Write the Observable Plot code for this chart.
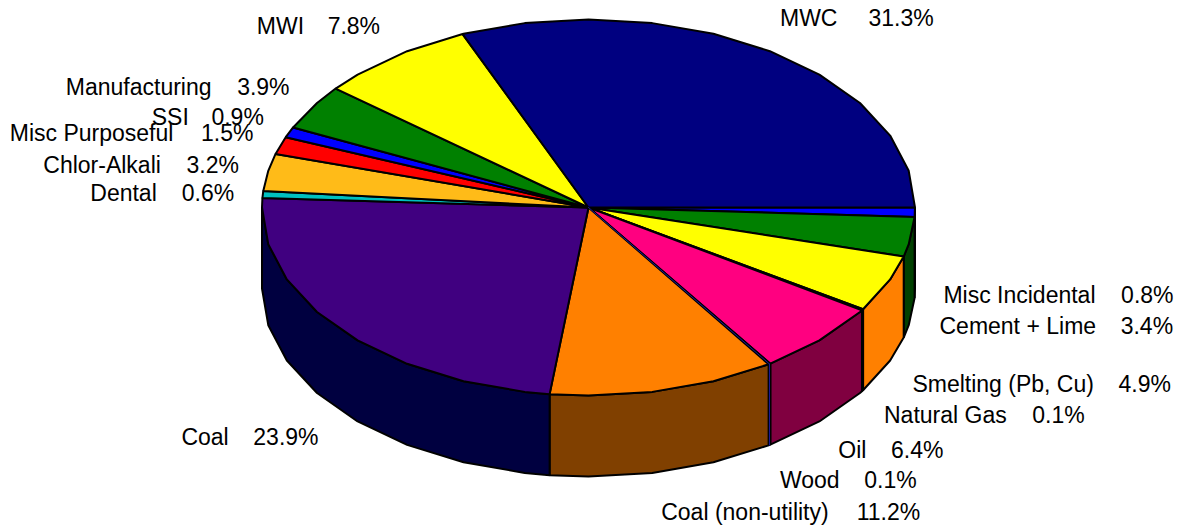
<!DOCTYPE html>
<html>
<head>
<meta charset="utf-8">
<script src="https://cdn.jsdelivr.net/npm/d3@7"></script>
<script src="https://cdn.jsdelivr.net/npm/@observablehq/plot@0.6"></script>
<style>
  html, body { margin: 0; padding: 0; background: #fff; }
  svg { display: block; }
</style>
</head>
<body>
<div id="chart"></div>
<script>
// Mercury emission shares by source category, clockwise from 3 o'clock.
const sources = ["Misc Incidental", "Cement + Lime", "Smelting (Pb, Cu)", "Natural Gas", "Oil", "Wood",
  "Coal (non-utility)", "Coal", "Dental", "Chlor-Alkali", "Misc Purposeful", "SSI", "Manufacturing", "MWI", "MWC"];
const shares = [0.8, 3.4, 4.9, 0.1, 6.4, 0.1, 11.2, 23.9, 0.6, 3.2, 1.5, 0.9, 3.9, 7.8, 31.3];
const topColors = ["#0000ff", "#008000", "#ffff00", "#000080", "#ff0080", "#000080", "#ff8000", "#400080",
  "#00c0c0", "#ffbb18", "#ff0000", "#0000ff", "#008000", "#ffff00", "#000080"];
const wallColors = ["#000080", "#004000", "#ff8000", "#000040", "#800040", "#000080", "#804000", "#000040",
  "#006060", "#805c0c", "#800000", "#000080", "#004000", "#808000", "#000040"];

// Label placement relative to the rim point at each slice's middle angle.
const labelDx = [28.5, 28.5, 25.5, 21.5, 17.5, 10.5, -2.5, -157.5, -172.5, -224.5, -270.5, -137.5, -246.5, -136.5, 10.5];
const labelDy = [91, 97, 108, 113, 118, 124, 130, 116, 6, 1, -4, -7, -12, -23, -25];
// Space between a source name and its percentage.
const valueGaps = [25.6, 24.6, 24.6, 25.6, 24.6, 24.6, 28, 24.6, 25, 25.6, 27.6, 22.6, 25.6, 23.6, 31];

const fontSize = 23;
const fontFamily = "'Liberation Sans', Arial, sans-serif";
const wallDepth = 0.431;       // side wall height, in units of the vertical radius
const rimStep = 11.25;         // the rim is flattened to chords at this angular step

const measure = document.createElement("canvas").getContext("2d");
measure.font = `${fontSize}px ${fontFamily}`;

const rim = (deg, drop = 0) => ({
  x: Math.cos(deg * Math.PI / 180),
  y: Math.sin(deg * Math.PI / 180) + drop
});

// Rim angles between two boundaries, including every flattening vertex.
function rimAngles(a0, a1) {
  const angles = [a0];
  for (let k = Math.floor(a0 / rimStep) + 1; k * rimStep < a1; k++) angles.push(k * rimStep);
  angles.push(a1);
  return angles;
}

let running = 0;
const slices = shares.map((share, i) => {
  const start = running * 3.6;
  running += share;
  const end = running * 3.6;
  return {name: sources[i], share, start, end, mid: (start + end) / 2, top: topColors[i], wall: wallColors[i]};
});

const topPolygon = (s) => [{x: 0, y: 0}, ...rimAngles(s.start, s.end).map((a) => rim(a))];

// Only the near half of the cylinder shows a side wall.
const wallPolygon = (s) => {
  const angles = rimAngles(s.start, Math.min(s.end, 180));
  return [...angles.map((a) => rim(a)), ...angles.slice().reverse().map((a) => rim(a, wallDepth))];
};

const outline = {stroke: "#000", strokeWidth: 2, strokeLinejoin: "miter", curve: "linear-closed"};

const wallMarks = slices.filter((s) => s.start < 180).map((s) =>
  Plot.line(wallPolygon(s), {x: "x", y: "y", fill: s.wall, ...outline}));
const topMarks = slices.map((s) =>
  Plot.line(topPolygon(s), {x: "x", y: "y", fill: s.top, ...outline}));

// The wood sliver is thinner than its outline, so its colour is restated on top.
const wood = slices.find((s) => s.name === "Wood");
const woodMarks = [
  Plot.line([{x: 0, y: 0}, rim(wood.mid)], {x: "x", y: "y", stroke: "#1a1a9a", strokeWidth: 1}),
  Plot.line([rim(wood.mid), rim(wood.mid, wallDepth)], {x: "x", y: "y", stroke: "#1a1a9a", strokeWidth: 1})
];

const labelMarks = slices.flatMap((s, i) => {
  const common = {x: "x", y: "y", dy: labelDy[i], textAnchor: "start", lineAnchor: "bottom", fill: "#000"};
  const nameWidth = measure.measureText(s.name).width;
  return [
    Plot.text([rim(s.mid)], {...common, text: () => s.name, dx: labelDx[i]}),
    Plot.text([rim(s.mid)], {...common, text: () => `${s.share.toFixed(1)}%`, dx: labelDx[i] + nameWidth + valueGaps[i]})
  ];
});

const chart = Plot.plot({
  width: 1186,
  height: 529,
  margin: 0,
  style: {fontFamily, fontSize: `${fontSize}px`, background: "#fff", overflow: "visible"},
  x: {domain: [-1, 1], range: [261.5, 914.5], axis: null},
  y: {domain: [-1, 1], range: [19, 395], axis: null},
  marks: [...wallMarks, ...topMarks, ...woodMarks, ...labelMarks]
});
document.getElementById("chart").append(chart);
</script>
</body>
</html>
